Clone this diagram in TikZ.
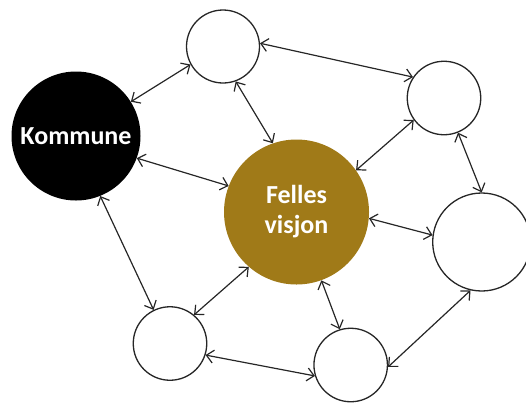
\documentclass[tikz,border=0pt]{standalone}
\usepackage{fontspec}
\setmainfont{Carlito}
\usetikzlibrary{arrows.meta}
\definecolor{gold}{RGB}{160,122,24}
\begin{document}
\begin{tikzpicture}[x=1pt,y=-1pt,
  ring/.style={circle,draw=black!85,line width=1.3pt,fill=white,inner sep=0pt},
  big/.style={circle,inner sep=0pt,text=white,font=\fontsize{26}{30}\selectfont\bfseries,align=center},
  conn/.style={draw=black!85,line width=1.2pt,{Straight Barb[length=7pt,width=13pt]}-{Straight Barb[length=7pt,width=13pt]}}]
\useasboundingbox (0,0) rectangle (526,405);
\node[big,fill=black,minimum size=129pt] (k) at (76,136) {Kommune};
\node[big,fill=gold,minimum size=145pt] (f) at (296.5,212) {Felles\\visjon};
\node[ring,minimum size=73pt] (t) at (223,46.5) {};
\node[ring,minimum size=73.5pt] (tr) at (444,98) {};
\node[ring,minimum size=98pt] (r) at (481.7,242) {};
\node[ring,minimum size=73.5pt] (bl) at (170,343.5) {};
\node[ring,minimum size=73.5pt] (br) at (350.7,365) {};
\draw[conn] (k.32) -- (t.209);
\draw[conn] (t.5) -- (tr.146);
\draw[conn] (t.-70) -- (f.109);
\draw[conn] (k.-20) -- (f.159);
\draw[conn] (tr.216) -- (f.35);
\draw[conn] (tr.-68) -- (r.90);
\draw[conn] (f.-5) -- (r.172);
\draw[conn] (k.-68) -- (bl.116);
\draw[conn] (f.229) -- (bl.50);
\draw[conn] (f.-70) -- (br.107);
\draw[conn] (bl.-18) -- (br.197);
\draw[conn] (br.-3) -- (r.-103);
\end{tikzpicture}
\end{document}
